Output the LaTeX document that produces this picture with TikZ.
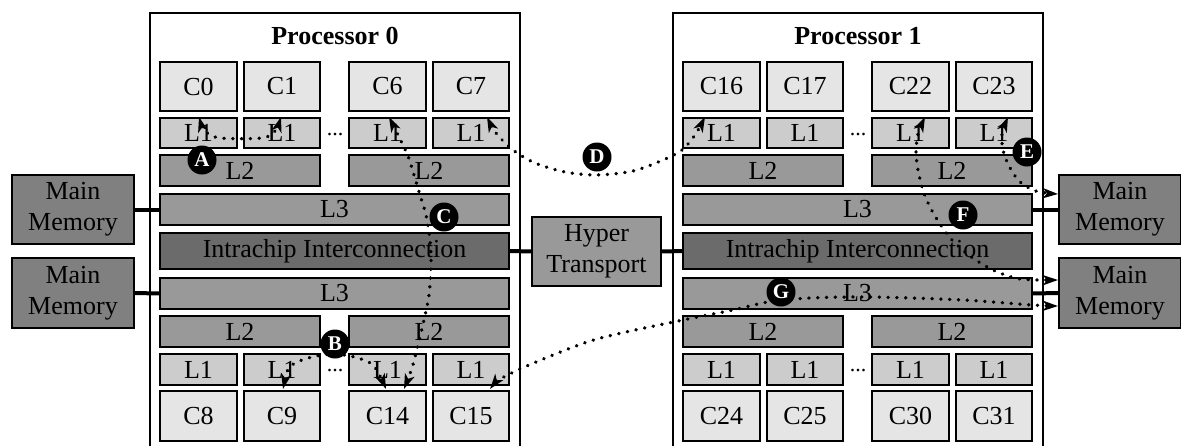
\documentclass[tikz,border=0pt]{standalone}
\usepackage{fontspec}
\setmainfont{Liberation Serif}
\usetikzlibrary{arrows.meta}
\newcommand\bx[7]{%
  \pgfmathsetmacro\bxw{(#5)-(#3)}%
  \pgfmathsetmacro\bxh{(#6)-(#4)}%
  \node[#1, minimum width=\bxw pt, minimum height=\bxh pt] (#2) at ({((#3)+(#5))/2},{((#4)+(#6))/2}) {#7};}
\tikzset{
  bxs/.style={draw=black, line width=2pt, inner sep=0pt, outer sep=0pt, align=center, font=\fontsize{26}{31}\selectfont},
  corebox/.style={bxs, fill=black!10},
  lonebox/.style={bxs, fill=black!20},
  ltwobox/.style={bxs, fill=black!40},
  intrabox/.style={bxs, fill=black!58},
  memboxs/.style={bxs, fill=black!50},
  hyperbox/.style={bxs, fill=black!40},
  procbox/.style={draw=black, line width=2pt, fill=white, inner sep=0pt, outer sep=0pt},
  titlesty/.style={font=\bfseries\fontsize{26}{31}\selectfont, anchor=base, inner sep=0pt},
  dotsty/.style={font=\fontsize{22}{24}\selectfont, anchor=base, inner sep=0pt},
  conn/.style={line width=4pt},
  flow/.style={line width=3.5pt, line cap=round, dash pattern=on 0.3pt off 8.5pt,
    {Stealth[length=15pt,width=10pt,inset=4pt]}-{Stealth[length=15pt,width=10pt,inset=4pt]}},
  lbl/.style={circle, fill=black, text=white, font=\bfseries\fontsize{21}{21}\selectfont, minimum size=29pt, inner sep=0pt}
}
\newcommand\procunit[2]{%
  \pgfmathtruncatemacro\ofs{#2}%
  \pgfmathtruncatemacro\cA{16*#1}\pgfmathtruncatemacro\cB{16*#1+1}%
  \pgfmathtruncatemacro\cC{16*#1+6}\pgfmathtruncatemacro\cD{16*#1+7}%
  \pgfmathtruncatemacro\cE{16*#1+8}\pgfmathtruncatemacro\cF{16*#1+9}%
  \pgfmathtruncatemacro\cG{16*#1+14}\pgfmathtruncatemacro\cH{16*#1+15}%
  \bx{procbox}{proc#1}{150+\ofs}{13}{520+\ofs}{470}{}
  \node[titlesty] (title#1) at ({335+\ofs},44) {Processor #1};
  % upper cores
  \bx{corebox}{p#1ca}{160+\ofs}{62}{237+\ofs}{111}{C\cA}
  \bx{corebox}{p#1cb}{244+\ofs}{62}{320+\ofs}{111}{C\cB}
  \bx{corebox}{p#1cc}{349+\ofs}{62}{426+\ofs}{111}{C\cC}
  \bx{corebox}{p#1cd}{433+\ofs}{62}{509+\ofs}{111}{C\cD}
  \bx{lonebox}{p#1la}{160+\ofs}{118}{237+\ofs}{148}{L1}
  \bx{lonebox}{p#1lb}{244+\ofs}{118}{320+\ofs}{148}{L1}
  \bx{lonebox}{p#1lc}{349+\ofs}{118}{426+\ofs}{148}{L1}
  \bx{lonebox}{p#1ld}{433+\ofs}{118}{509+\ofs}{148}{L1}
  \node[dotsty] (dots#1u) at ({335+\ofs},135.5) {...};
  \bx{ltwobox}{p#1ma}{160+\ofs}{155}{320+\ofs}{186}{L2}
  \bx{ltwobox}{p#1mb}{349+\ofs}{155}{509+\ofs}{186}{L2}
  \bx{ltwobox}{p#1ta}{160+\ofs}{194}{509+\ofs}{225}{L3}
  \bx{intrabox}{p#1i}{160+\ofs}{233}{509+\ofs}{269}{Intrachip Interconnection}
  \bx{ltwobox}{p#1tb}{160+\ofs}{278}{509+\ofs}{309}{L3}
  \bx{ltwobox}{p#1mc}{160+\ofs}{316}{320+\ofs}{347}{L2}
  \bx{ltwobox}{p#1md}{349+\ofs}{316}{509+\ofs}{347}{L2}
  \bx{lonebox}{p#1le}{160+\ofs}{354}{237+\ofs}{385}{L1}
  \bx{lonebox}{p#1lf}{244+\ofs}{354}{320+\ofs}{385}{L1}
  \bx{lonebox}{p#1lg}{349+\ofs}{354}{426+\ofs}{385}{L1}
  \bx{lonebox}{p#1lh}{433+\ofs}{354}{509+\ofs}{385}{L1}
  \node[dotsty] (dots#1l) at ({335+\ofs},371) {...};
  \bx{corebox}{p#1ce}{160+\ofs}{391}{237+\ofs}{441}{C\cE}
  \bx{corebox}{p#1cf}{244+\ofs}{391}{320+\ofs}{441}{C\cF}
  \bx{corebox}{p#1cg}{349+\ofs}{391}{426+\ofs}{441}{C\cG}
  \bx{corebox}{p#1ch}{433+\ofs}{391}{509+\ofs}{441}{C\cH}
}
\begin{document}
\begin{tikzpicture}[x=1pt,y=-1pt]
\useasboundingbox (0,0) rectangle (1181,445);
\fill[white] (0,0) rectangle (1181,445);

\procunit{0}{0}
\procunit{1}{523}

% memories and hyper transport
\bx{memboxs}{mem0}{12}{175}{134}{244}{Main\\Memory}
\bx{memboxs}{mem1}{12}{258}{134}{328}{Main\\Memory}
\bx{memboxs}{mem2}{1059}{175}{1181}{244}{Main\\Memory}
\bx{memboxs}{mem3}{1059}{258}{1181}{328}{Main\\Memory}
\bx{hyperbox}{hyper}{532}{217}{661}{286}{Hyper\\Transport}

\draw[conn] (mem0.east) -- (p0ta.west);
\draw[conn] (mem1.east) -- (p0tb.west);
\draw[conn] (p1ta.east) -- (mem2.west);
\draw[conn] (p1tb.east) -- (mem3.west);
\draw[conn] (p0i.east) -- (hyper.west);
\draw[conn] (hyper.east) -- (p1i.west);

% flows
\coordinate (a1) at (199,117); \coordinate (a2) at (281,117);
\draw[flow] plot[smooth] coordinates {(a1) (205,131) (220,138) (262,138) (275,131) (a2)};
\coordinate (b1) at (283,389); \coordinate (b2) at (386,389);
\draw[flow] plot[smooth] coordinates {(b1) (291,366) (312,357) (335,354) (358,358) (374,366) (b2)};
\coordinate (c1) at (389,117); \coordinate (c2) at (404,389);
\draw[flow] plot[smooth] coordinates {(c1) (399,137) (408,156) (414,175) (420,195) (426,215) (430,240) (431,265) (429,295) (424,320) (418,345) (412,368) (c2)};
\coordinate (d1) at (487,117); \coordinate (d2) at (705,117);
\draw[flow] plot[smooth] coordinates {(d1) (496,133) (513,150) (535,163) (565,172) (597,175) (633,171) (663,160) (682,150) (695,135) (d2)};
\coordinate (e1) at (1008,117); \coordinate (e2) at (1058,194);
\draw[flow] plot[smooth] coordinates {(e1) (1002,134) (1003,150) (1009,166) (1019,181) (1033,190) (1046,193) (e2)};
\coordinate (f1) at (925,117); \coordinate (f2) at (1058,280);
\draw[flow] plot[smooth] coordinates {(f1) (918,134) (916,152) (918,170) (923,190) (930,207) (940,224) (952,240) (970,256) (993,270) (1020,279) (f2)};
\coordinate (g1) at (490,389); \coordinate (g2) at (1058,306);
\draw[flow] plot[smooth] coordinates {(g1) (502,378) (536,362) (597,339) (683,320) (733,310) (768,302) (810,298) (871,297) (963,300) (1032,305) (g2)};

% labels
\node[lbl] (A) at (202,160) {A};
\node[lbl] (B) at (335,344) {B};
\node[lbl] (C) at (444,217) {C};
\node[lbl] (D) at (597,157) {D};
\node[lbl] (E) at (1027,152) {E};
\node[lbl] (F) at (963,215) {F};
\node[lbl] (G) at (781,292) {G};
\end{tikzpicture}
\end{document}
